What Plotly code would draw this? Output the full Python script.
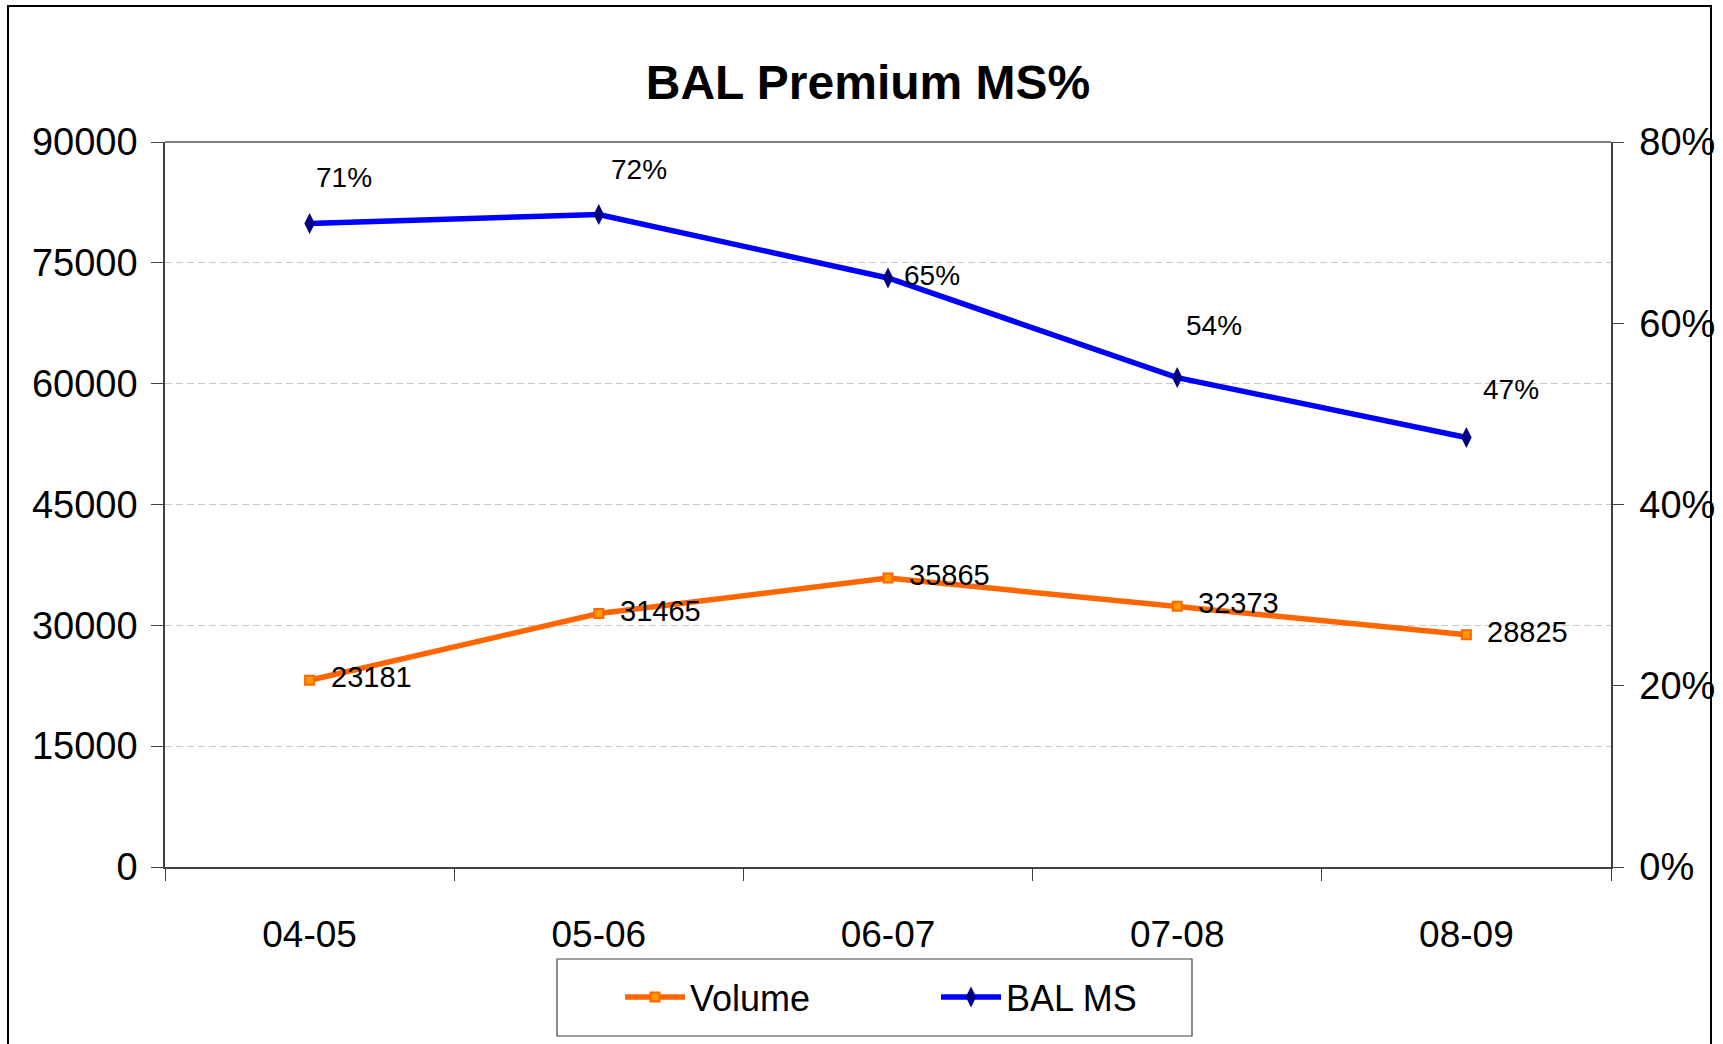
import plotly.graph_objects as go

# ---- data ----
categories = ["04-05", "05-06", "06-07", "07-08", "08-09"]
volume = [23181, 31465, 35865, 32373, 28825]
bal_ms = [0.71, 0.72, 0.65, 0.54, 0.474]
left_ticks = [0, 15000, 30000, 45000, 60000, 75000, 90000]
right_ticks = [0, 0.2, 0.4, 0.6, 0.8]

# ---- layout constants ----
W, H = 1723, 1044
L, R, T, B = 165, 112, 142, 177
PW, PH = W - L - R, H - T - B
FONT = "Liberation Sans, Arial, Helvetica, sans-serif"


def px(x):
    return (x - L) / PW


def py(y):
    return (H - B - y) / PH


fig = go.Figure()
fig.add_trace(go.Scatter(
    x=categories, y=volume, name="Volume", mode="lines+markers",
    line=dict(color="#FF6600", width=5.5),
    marker=dict(symbol="square", size=9, color="#FF9900", line=dict(color="#FF6600", width=2)),
    yaxis="y",
))
fig.add_trace(go.Scatter(
    x=categories, y=bal_ms, name="BAL MS", mode="lines+markers",
    line=dict(color="#0000FF", width=5.5),
    marker=dict(symbol="diamond-tall", size=15, color="#000080", line=dict(width=0)),
    yaxis="y2",
))

annotations = []
for c, v in zip(categories, volume):
    annotations.append(dict(x=c, y=v, xref="x", yref="y", text=str(v), showarrow=False,
                            xanchor="left", yanchor="middle", xshift=19, yshift=3,
                            font=dict(family=FONT, size=29, color="black")))

pct_offsets = [(34, -46), (40, -45), (44, -2), (37, -52), (45, -48)]
for c, v, (dx, dy) in zip(categories, bal_ms, pct_offsets):
    annotations.append(dict(x=c, y=v, xref="x", yref="y2", text=f"{round(v*100)}%", showarrow=False,
                            xanchor="center", yanchor="middle", xshift=dx, yshift=-dy,
                            font=dict(family=FONT, size=28, color="black")))

shapes = [
    # outer chart frame
    dict(type="rect", xref="paper", yref="paper", x0=px(8), x1=px(1711), y0=py(1060), y1=py(6),
         line=dict(color="black", width=2), layer="below"),
    # top border of plot area
    dict(type="line", xref="paper", yref="paper", x0=0, x1=1, y0=1, y1=1,
         line=dict(color="#808080", width=2)),
    # legend box
    dict(type="rect", xref="paper", yref="paper", x0=px(557), x1=px(1192), y0=py(1036), y1=py(959),
         line=dict(color="#404040", width=1.2)),
]

fig.update_layout(
    width=W, height=H,
    margin=dict(l=L, r=R, t=T, b=B, autoexpand=False),
    paper_bgcolor="white", plot_bgcolor="white",
    font=dict(family=FONT, color="black"),
    title=dict(text="<b>BAL Premium MS%</b>", x=868 / W, xanchor="center", xref="container",
               y=1 - 82 / H, yanchor="middle", yref="container",
               font=dict(family=FONT, size=48, color="black")),
    xaxis=dict(type="category", range=[-0.5, 4.5], tickson="boundaries", ticks="outside",
               ticklen=12, tickcolor="#404040", showline=True, linecolor="#404040", linewidth=1.5,
               showgrid=False, tickfont=dict(family=FONT, size=37, color="black"),
               ticklabelstandoff=34, fixedrange=True),
    yaxis=dict(range=[0, 90000], tickvals=left_ticks, tickformat="d", ticks="outside", ticklen=12,
               tickcolor="#404040", showline=True, linecolor="#404040", linewidth=1.5,
               showgrid=True, gridcolor="#C8C8C8", griddash="7px,4px", gridwidth=1,
               zeroline=False, tickfont=dict(family=FONT, size=38, color="black"),
               ticklabelstandoff=6),
    yaxis2=dict(range=[0, 0.8], tickvals=right_ticks, tickformat=".0%", overlaying="y", side="right",
                ticks="outside", ticklen=11, tickcolor="#404040", showline=True, linecolor="#404040",
                linewidth=1.5, showgrid=False, zeroline=False,
                tickfont=dict(family=FONT, size=38, color="black"), ticklabelstandoff=8),
    legend=dict(orientation="h", x=px(620), xanchor="left", y=py(997), yanchor="middle",
                bgcolor="rgba(0,0,0,0)", borderwidth=0, entrywidth=241, entrywidthmode="pixels",
                itemwidth=60, font=dict(family=FONT, size=36, color="black"), traceorder="normal"),
    annotations=annotations,
    shapes=shapes,
    showlegend=True,
)

fig.write_html("out.html", config={"displayModeBar": False},
               post_script="document.body.style.margin='0';")
